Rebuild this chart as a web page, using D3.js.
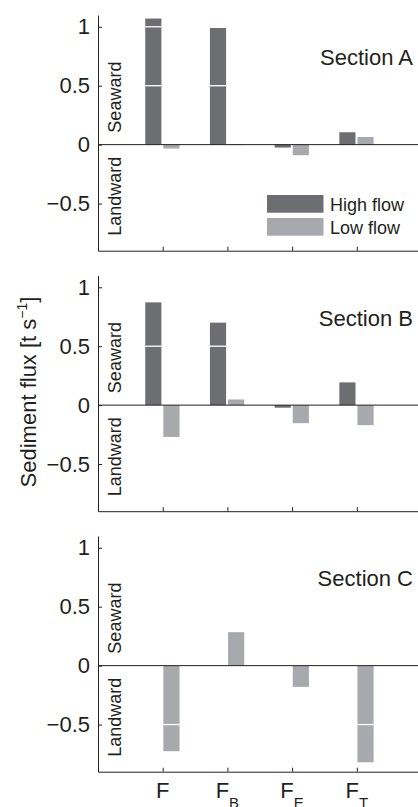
<!DOCTYPE html>
<html lang="en">
<head>
  <meta charset="UTF-8">
  <title>Sediment flux by section</title>
  <script src="https://d3js.org/d3.v7.min.js"></script>
  <style>
    body { margin: 0; background: #fff; }
    svg { display: block; font-family: "Liberation Sans", Arial, sans-serif; }
  </style>
</head>
<body>
<svg id="chart" width="418" height="807"></svg>
<script>
// data (t/s)
const categories = ["F", "FB", "FE", "FT"];
const catSubs = ["", "B", "E", "T"];
const sections = ["Section A", "Section B", "Section C"];
const highA = [1.07, 0.99, -0.025, 0.105];
const lowA = [-0.033, -0.004, -0.09, 0.065];
const highB = [0.872, 0.70, -0.022, 0.193];
const lowB = [-0.27, 0.048, -0.153, -0.17];
const highC = [0, 0, 0, 0];
const lowC = [-0.726, 0.284, -0.18, -0.82];
const yTicks = [-0.5, 0, 0.5, 1];
const yTickLabels = ["\u22120.5", "0", "0.5", "1"];
const seriesNames = ["High flow", "Low flow"];

const panels = [
  { name: sections[0], high: highA, low: lowA },
  { name: sections[1], high: highB, low: lowB },
  { name: sections[2], high: highC, low: lowC }
];

const colors = { high: "#6d6e71", low: "#a7a9ac" };
const ink = "#231f20";

const svg = d3.select("#chart");
const left = 98, unit = 64.7;
const panelTop = 15, panelH = 235.7, panelStep = 260.5;

const x = d3.scaleLinear().domain([0, 5]).range([left, left + 5 * unit]);
const barW = 0.25;

panels.forEach((p, i) => {
  const top = panelTop + i * panelStep;
  const bottom = top + panelH;
  const y = d3.scaleLinear().domain([-0.9, 1.1]).range([bottom, top]);
  const g = svg.append("g");

  // rows for bars
  const rows = [];
  categories.forEach((c, j) => {
    rows.push({ key: "high", pos: j + 1 - 0.27, v: p.high[j] });
    rows.push({ key: "low", pos: j + 1 + 0.01, v: p.low[j] });
  });

  g.selectAll("rect.bar")
    .data(rows)
    .enter()
    .append("rect")
    .attr("class", "bar")
    .attr("x", d => x(d.pos))
    .attr("width", x(barW) - x(0))
    .attr("y", d => y(Math.max(0, d.v)))
    .attr("height", d => Math.abs(y(d.v) - y(0)))
    .attr("fill", d => colors[d.key]);

  // white grid lines, only visible across the bars
  const cuts = [];
  rows.forEach(d => {
    yTicks.forEach(t => {
      if (t !== 0 && ((d.v > 0 && t > 0 && t < d.v) || (d.v < 0 && t < 0 && t > d.v))) {
        cuts.push({ pos: d.pos, t });
      }
    });
  });
  g.selectAll("line.cut")
    .data(cuts)
    .enter()
    .append("line")
    .attr("x1", d => x(d.pos))
    .attr("x2", d => x(d.pos + barW))
    .attr("y1", d => y(d.t))
    .attr("y2", d => y(d.t))
    .attr("stroke", "#fff")
    .attr("stroke-width", 1.3);

  // zero line
  g.append("line")
    .attr("x1", x(0)).attr("x2", x(5))
    .attr("y1", y(0)).attr("y2", y(0))
    .attr("stroke", ink).attr("stroke-width", 1);

  // y axis
  const yAxis = d3.axisLeft(y)
    .tickValues(yTicks)
    .tickFormat((d, k) => yTickLabels[k])
    .tickSizeInner(-4)
    .tickSizeOuter(0)
    .tickPadding(8);
  const ya = g.append("g")
    .attr("transform", `translate(${left},0)`)
    .call(yAxis);
  ya.select(".domain").attr("stroke", ink);
  ya.selectAll(".tick line").attr("stroke", ink);
  ya.selectAll(".tick text")
    .attr("fill", ink)
    .style("font-size", "22px");

  // x axis
  const xAxis = d3.axisBottom(x)
    .tickValues([1, 2, 3, 4])
    .tickFormat("")
    .tickSizeInner(-4)
    .tickSizeOuter(0);
  const xa = g.append("g")
    .attr("transform", `translate(0,${bottom})`)
    .call(xAxis);
  xa.select(".domain").attr("stroke", ink);
  xa.selectAll(".tick line").attr("stroke", ink);

  // direction labels
  g.append("text")
    .attr("transform", `translate(121,${y(0) - 12}) rotate(-90)`)
    .attr("text-anchor", "start")
    .attr("fill", ink)
    .style("font-size", "18px")
    .text("Seaward");
  g.append("text")
    .attr("transform", `translate(121,${y(0) + 12}) rotate(-90)`)
    .attr("text-anchor", "end")
    .attr("fill", ink)
    .style("font-size", "18px")
    .text("Landward");

  // section label
  g.append("text")
    .attr("x", 413)
    .attr("y", top + 50)
    .attr("text-anchor", "end")
    .attr("fill", ink)
    .style("font-size", "22px")
    .text(p.name);

  // legend in first panel
  if (i === 0) {
    const lg = g.append("g").attr("transform", `translate(267,${top + 180})`);
    seriesNames.forEach((n, k) => {
      lg.append("rect")
        .attr("x", 0).attr("y", k * 23)
        .attr("width", 56.5).attr("height", 17.7)
        .attr("fill", k === 0 ? colors.high : colors.low);
      lg.append("text")
        .attr("x", 63).attr("y", k * 23 + 15.5)
        .attr("fill", ink)
        .style("font-size", "18px")
        .text(n);
    });
  }

  // category labels on bottom panel
  if (i === panels.length - 1) {
    categories.forEach((c, j) => {
      const t = g.append("text")
        .attr("x", x(j + 1))
        .attr("y", bottom + 26)
        .attr("text-anchor", "middle")
        .attr("fill", ink)
        .style("font-size", "22px");
      t.append("tspan").text(c.charAt(0));
      if (catSubs[j]) {
        t.append("tspan")
          .attr("dy", 10)
          .style("font-size", "15px")
          .text(catSubs[j]);
      }
    });
  }
});

// shared y label
const yl = svg.append("text")
  .attr("transform", "translate(36,392) rotate(-90)")
  .attr("text-anchor", "middle")
  .attr("fill", ink)
  .style("font-size", "22px");
yl.append("tspan").text("Sediment flux [t s");
yl.append("tspan").attr("dy", -9).style("font-size", "14px").text("\u22121");
yl.append("tspan").attr("dy", 9).text("]");
</script>
</body>
</html>
